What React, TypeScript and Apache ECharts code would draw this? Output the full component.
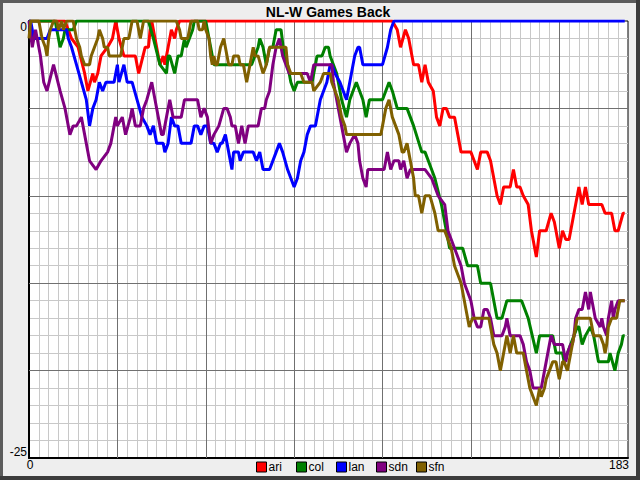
import React, { useEffect, useRef } from "react";
import * as echarts from "echarts";

const titleText = "NL-W Games Back";
const seriesNames = ["ari", "col", "lan", "sdn", "sfn"];
const seriesColors = ["#ff0000", "#008000", "#0000ff", "#800080", "#806000"];

const xTickLabels = [0, 183];
const yTickLabels = [0, -25];

const ari = [
  [0, 0], [11, 0], [13, -1], [15, -1.5], [17, -3], [18, -4], [19.5, -3], [20, -3.5], [21, -3], [22, -2], [24, -1.5], [25.5, -1], [26.5, 0], [27.5, -1], [29, -2], [32.5, -2], [33.5, -3], [35.5, -1.5], [36.5, -1.5], [37, -0.5], [37.5, 0], [38.5, -1], [39.5, -2], [40, -2.5], [41, -2], [41.5, -2.5], [42.5, -1.5], [43.5, -0.5], [44.5, -1], [45, -0.5], [46, 0],
  [111, 0], [112.5, -0.5], [113.5, -1.5], [115, -0.5], [116, -1], [117.5, -2.5], [119, -2.5], [120, -3.5], [121, -2.5], [122, -3.5], [123.5, -4], [124.5, -5.5], [125.5, -6], [126.5, -5], [127.5, -5], [128.5, -5.5], [130, -5.5], [131, -6.5], [132, -7.5], [135, -7.5], [136, -8], [137, -8.5], [138, -7.5], [140, -7.5], [141, -8], [143, -10], [144, -10.5], [145, -9.5], [147, -9.5], [148, -8.5], [149, -9.5], [150, -9.5], [151, -10], [152.5, -10.5], [153.5, -12], [155, -13.5], [156, -12], [158, -12], [159.5, -11], [160.5, -11.5], [162, -13], [163, -12], [164, -12.5], [165, -12.5], [166, -11.5], [168, -9.5], [169, -10.5], [170, -9.5], [171, -10.5], [175, -10.5], [176, -11], [178, -11], [179, -12], [180, -12], [181.5, -11], [182, -11],
];

const col = [
  [0, 0], [8, 0], [9, -1], [9.5, -1.5], [10.5, -1], [11, -0.5], [13.5, -0.5], [14.5, 0], [36.5, 0], [38, -1], [40, -2.5], [42, -3], [42.5, -2], [43, -2], [44.5, -3], [45.5, -2], [46.5, -2], [47.5, -1], [48, -1.5], [49, -1], [50, -0.5], [50.5, 0], [54, 0], [55.5, -1.5], [56.5, -2.5], [68, -2.5], [69, -2], [70, -1.5], [70.5, -1], [71.5, -1.5], [72.5, -2.5], [73.5, -1.5], [74.5, -1.5], [75.5, -0.5], [77, -0.5], [78, -2], [79, -2.5], [80, -3.5], [81, -4], [82, -3.5], [86.5, -3.5], [87, -3], [88, -2], [89.5, -2], [90.5, -1.5], [91.5, -1.5], [92, -2], [93, -2.5], [94, -3], [95.5, -4.5], [97, -5.5], [98, -4.5], [99, -4], [100, -3.5], [101, -4], [102, -4.5], [103, -5.5], [104, -4.5], [108, -4.5], [109, -4], [110, -3.5], [111, -4], [112.5, -5], [115.5, -5], [117.5, -6], [120, -7.5], [121, -7.5], [123, -8.5], [124, -9], [126, -10.5], [127, -11.5], [128.5, -13], [132.5, -13], [134, -14], [137, -14], [138, -15], [141, -15], [143, -17], [144.5, -17], [146, -16], [150.5, -16], [152.5, -17], [155, -19], [156, -18], [160, -18], [161, -19], [163, -19], [163.5, -19.5], [164.5, -19], [165.5, -18.5], [166.5, -18], [167.5, -17.5], [168, -17.5], [169, -18.5], [170, -18], [171.5, -17.5], [172.5, -18], [173.5, -19], [174, -19.5], [177, -19.5], [177.5, -19], [179, -20], [180, -19], [181, -18.5], [181.5, -18], [182, -18],
];

const lan = [
  [0, 0], [0.5, 0], [1.5, -1], [5.5, -1], [6.5, -0.5], [11.5, -0.5], [12, -1], [13, -1.5], [14.5, -2.5], [16, -3.5], [17.5, -4.5], [18.5, -6], [19.5, -5], [20.5, -4.5], [21.5, -3.5], [22.5, -4], [23.5, -3.5], [26, -3.5], [27, -2.5], [27.5, -3.5], [29, -2.5], [30, -3.5], [31.5, -3.5], [33, -4.5], [34.5, -5.5], [36, -6], [37, -6.5], [38, -6], [39, -7], [41, -7], [41.5, -7.5], [42.5, -7], [43.5, -5.5], [44.5, -6], [45.5, -6], [46.5, -7], [49.5, -7], [50.5, -6], [51.5, -6], [52.5, -6.5], [53.5, -6], [54.5, -6], [55.5, -7], [56.5, -7], [57.5, -7.5], [58.5, -7], [59, -7], [60, -6.5], [60.5, -7], [61.5, -8], [62, -8.5], [62.5, -7.5], [64, -7.5], [64.5, -8], [65.5, -7.5], [68.5, -7.5], [69.5, -8], [70.5, -7.5], [71.5, -8.5], [73.5, -8.5], [75.5, -7.5], [76.5, -7], [77.5, -7.5], [79, -8.5], [80, -9], [81, -9.5], [82, -9], [83, -8], [84, -7.5], [85, -6.5], [86, -6], [87.5, -6], [88, -5.5], [89, -4.5], [90, -4], [91, -3.5], [92, -2.5], [92.5, -2.5], [93.5, -3], [95, -3.5], [96, -4], [97, -4.5], [97.5, -4], [98.5, -3], [99.5, -2], [100.5, -1.5], [101, -1.5], [102, -2.5], [108, -2.5], [109.5, -1.5], [110.5, -0.5], [111.5, 0], [182, 0],
];

const sdn = [
  [0, 0], [1, -1.5], [2, -0.5], [3.5, -2], [4.5, -3.5], [5.5, -4], [7.5, -2.5], [9.5, -4], [11, -5], [12.5, -6.5], [13.5, -6], [14.5, -6], [16, -5.5], [17.5, -7], [18.5, -8], [20.5, -8.5], [22, -8], [24, -7.5], [25, -7], [26, -6], [26.5, -5.5], [27, -6], [28.5, -5.5], [29.5, -6.5], [31, -5.5], [31.5, -5], [32.5, -6], [34, -6], [35, -5], [36, -4.5], [37.5, -3.5], [38.5, -4.5], [39.5, -5.5], [40.5, -6.5], [41, -6.5], [42, -5.5], [43, -4.5], [44, -5.5], [46.5, -5.5], [47.5, -4.5], [51.5, -4.5], [52.5, -5.5], [53.5, -5], [54.5, -5.5], [55.5, -7], [56.5, -6.5], [58, -6], [59.5, -5], [60.5, -5], [61.5, -5.5], [62, -6], [63, -6], [64, -7], [65, -6], [66, -7], [67, -6], [70, -6], [71, -5], [72, -5], [72.5, -4.5], [73.5, -4], [74.5, -2.5], [75.5, -1.5], [76.5, -1], [77.5, -2], [78.5, -2.5], [79.5, -3], [85, -3], [86, -3.5], [87, -2.5], [92.5, -2.5], [93, -3.5], [94, -4.5], [95, -5.5], [96, -6.5], [97, -7.5], [98, -7], [99.5, -6.5], [100.5, -7], [101, -8], [102, -9], [103, -9.5], [103.5, -8.5], [108.5, -8.5], [109.5, -7.5], [110.5, -8.5], [111.5, -8], [113, -8], [113.5, -8.5], [114.5, -8], [115.5, -9], [116.5, -8.5], [121, -8.5], [123, -9], [125, -10], [127, -10.5], [128, -12], [129, -12.5], [130, -13], [131, -13.5], [132, -14], [133, -15], [134, -15.5], [135, -16], [136, -17], [137, -17.5], [138, -17.5], [139, -16.5], [140, -16.5], [141, -17], [142, -18], [144.5, -18], [145.5, -17.5], [146, -17], [146.5, -17.5], [147, -18], [150, -18], [151, -18.5], [152, -19.5], [153, -20], [154, -21], [156.5, -21], [157.5, -20], [158.5, -19], [159.5, -18], [160.5, -18.5], [163, -18.5], [164, -19.5], [164.5, -19], [165.5, -18.5], [166, -18.5], [166.5, -18], [167, -17], [168, -16.5], [169, -16.5], [169.5, -16], [170, -15.5], [170.5, -16], [171, -16.5], [171.5, -15.5], [172, -16], [173, -17], [174.5, -17.5], [175, -17], [175.5, -17.5], [176.5, -18], [177, -17], [178, -16], [178.5, -17], [179, -16.5], [180, -16], [182, -16],
];

const sfn = [
  [0, -1], [0.5, 0], [3, 0], [4, -1], [5, -1.5], [5.5, -2], [6, -1], [6.5, -0.5], [7.5, 0], [8.5, 0], [9, -0.5], [10, 0], [10.5, -0.5], [11.5, 0], [13.5, 0], [14.5, -1], [15.5, -1.5], [16, -2], [17, -2.5], [18.5, -2.5], [19, -2], [20, -1.5], [21, -1], [21.5, -0.5], [22.5, -1], [23, -1.5], [24, -1.5], [24.5, -2], [28, -2], [28.5, -1.5], [29, -1], [30.5, -1], [31, -0.5], [31.5, 0], [33, 0], [34, -1], [35, 0], [45, 0], [46, -0.5], [46.5, -1], [48.5, -1], [49, -0.5], [49.5, 0], [51.5, 0], [52, -0.5], [53, -0.5], [53.5, 0], [54, -0.5], [55, -1], [55.5, -2], [56, -2.5], [56.5, -2], [57, -2.5], [57.5, -2.5], [58, -2], [58.5, -1.5], [59.5, -1], [60.5, -2], [61, -2.5], [62, -2.5], [62.5, -2], [64, -2], [64.5, -2.5], [65.5, -2.5], [66.5, -3.5], [67.5, -2.5], [68.5, -1.5], [69, -2], [70, -2], [71.5, -3], [72.5, -2.5], [73.5, -1.5], [78.5, -1.5], [79, -2.5], [80, -3], [83, -3], [84, -3.5], [86.5, -3.5], [87, -4], [89, -3.5], [90, -3], [92, -3], [92.5, -3.5], [93.5, -4], [94.5, -4.5], [95.5, -5.5], [96.5, -6], [97, -6.5], [107.5, -6.5], [108.5, -5.5], [109, -5], [110, -4.5], [110.5, -5], [111, -5.5], [112, -6], [113, -6.5], [114, -7.5], [114.5, -7.5], [115.5, -7], [116, -7.5], [116.5, -8], [117, -8.5], [117.5, -9], [118, -10], [119, -10], [120, -11], [121, -10], [122.5, -10], [124, -11], [125, -12], [127, -12], [128, -12.5], [129, -13], [130, -14], [131, -14.5], [132, -15], [133, -16], [133.5, -16.5], [134.5, -17.5], [135.5, -17], [140.5, -17], [141.5, -18], [142, -18.5], [143, -19], [144, -20], [144.5, -19.5], [145.5, -18.5], [146, -18], [146.5, -18.5], [147, -19], [147.5, -18.5], [148, -18], [148.5, -18.5], [149, -19], [151, -19], [152, -20], [153, -21], [154, -21.5], [155, -22], [156, -21], [156.5, -21.5], [157.5, -21], [158, -20.5], [159, -20], [160, -19.5], [161, -19.5], [162, -20.5], [163, -19.5], [163.5, -19.5], [164.5, -20], [165.5, -19], [166, -18.5], [166.5, -18], [167, -17.5], [167.5, -17], [171.5, -17], [172.5, -18], [174.5, -18], [175.5, -18.5], [176, -19], [176.5, -18.5], [177, -17.5], [178, -17], [179.5, -17], [180, -16.5], [180.5, -16], [182, -16],
];

const seriesData = [ari, col, lan, sdn, sfn];

const FONT = "Liberation Sans";
const LEGEND_LEFT = 256;
const LEGEND_STEP = 40;

export default function App() {
  const ref = useRef<HTMLDivElement>(null);

  useEffect(() => {
    document.body.style.margin = "0";
    const chart = echarts.init(ref.current as HTMLDivElement, null, { renderer: "svg" });

    const xMin = xTickLabels[0];
    const xMax = xTickLabels[xTickLabels.length - 1];
    const yMax = yTickLabels[0];
    const yMin = yTickLabels[yTickLabels.length - 1];

    chart.setOption({
      animation: false,
      backgroundColor: "#eeeeee",
      textStyle: { fontFamily: FONT },
      title: {
        text: titleText,
        left: 328,
        top: 12,
        padding: 0,
        textAlign: "center",
        textVerticalAlign: "middle",
        textStyle: { fontFamily: FONT, fontSize: 14, fontWeight: "bold", color: "#000" },
      },
      legend: seriesNames.map((name, i) => ({
        data: [name],
        left: LEGEND_LEFT + LEGEND_STEP * i,
        top: 461,
        padding: 0,
        icon: "rect",
        itemWidth: 10,
        itemHeight: 10,
        itemGap: 0,
        itemStyle: { borderColor: "#000", borderWidth: 1 },
        textStyle: { fontFamily: FONT, fontSize: 12, color: "#000", padding: [0, 0, 0, -3] },
      })),
      graphic: [
        { type: "rect", silent: true, z: 100, shape: { x: 0, y: 0, width: 640, height: 3 }, style: { fill: "#5c5c5c" } },
        { type: "rect", silent: true, z: 100, shape: { x: 0, y: 0, width: 3, height: 480 }, style: { fill: "#5c5c5c" } },
        { type: "rect", silent: true, z: 100, shape: { x: 636, y: 0, width: 4, height: 480 }, style: { fill: "#3c3c3c" } },
        { type: "rect", silent: true, z: 100, shape: { x: 0, y: 476, width: 640, height: 4 }, style: { fill: "#3c3c3c" } },
      ],
      grid: {
        left: 29,
        top: 21,
        width: 599,
        height: 437,
        show: true,
        backgroundColor: "#ffffff",
        borderColor: "#000",
        borderWidth: 1,
        containLabel: false,
        outerBoundsMode: "none",
      },
      xAxis: [
        {
          type: "value",
          min: xMin,
          max: xMax,
          interval: 3,
          axisLine: { show: true, onZero: false, lineStyle: { color: "#000", width: 2 } },
          axisTick: { show: false },
          splitLine: { show: true, showMinLine: false, showMaxLine: false, lineStyle: { color: "#c8c8c8", width: 1 } },
          axisLabel: {
            show: true,
            margin: 1,
            fontFamily: FONT,
            fontSize: 12,
            color: "#000",
            formatter: (v: number) => {
              if (v === xMin) return "{a|" + v + "}";
              if (v === xMax) return "{b|" + v + "}";
              return "";
            },
            rich: {
              a: { fontFamily: FONT, fontSize: 12, color: "#000", padding: [0, 0, 0, 2] },
              b: { fontFamily: FONT, fontSize: 12, color: "#000", padding: [0, 18, 0, 0] },
            },
          },
        },
        {
          type: "value",
          min: xMin,
          max: xMax,
          interval: 27,
          position: "top",
          z: 1,
          axisLine: { show: false },
          axisTick: { show: false },
          axisLabel: { show: false },
          splitLine: { show: true, showMinLine: false, showMaxLine: false, lineStyle: { color: "#707070", width: 1 } },
        },
      ],
      yAxis: [
        {
          type: "value",
          min: yMin,
          max: yMax,
          interval: 1,
          axisLine: { show: true, onZero: false, lineStyle: { color: "#000", width: 2 } },
          axisTick: { show: false },
          splitLine: { show: true, showMinLine: false, showMaxLine: false, lineStyle: { color: "#c8c8c8", width: 1 } },
          axisLabel: {
            show: true,
            margin: 2,
            fontFamily: FONT,
            fontSize: 12,
            color: "#000",
            formatter: (v: number) => {
              if (v === yMax) return "{t|" + v + "}";
              if (v === yMin) return "{b|" + v + "}";
              return "";
            },
            rich: {
              t: { fontFamily: FONT, fontSize: 12, color: "#000", padding: [12, 0, 0, 0] },
              b: { fontFamily: FONT, fontSize: 12, color: "#000", padding: [0, 0, 12, 0] },
            },
          },
        },
        {
          type: "value",
          min: yMin,
          max: yMax,
          interval: 5,
          position: "right",
          z: 1,
          axisLine: { show: false },
          axisTick: { show: false },
          axisLabel: { show: false },
          splitLine: { show: true, showMinLine: false, showMaxLine: false, lineStyle: { color: "#707070", width: 1 } },
        },
      ],
      series: seriesNames.map((name, i) => ({
        name,
        type: "line",
        xAxisIndex: 0,
        yAxisIndex: 0,
        data: seriesData[i],
        showSymbol: false,
        symbol: "none",
        smooth: false,
        color: seriesColors[i],
        itemStyle: { color: seriesColors[i] },
        lineStyle: { color: seriesColors[i], width: 3 },
        emphasis: { disabled: true },
      })),
    });

    return () => chart.dispose();
  }, []);

  return (
    <div
      ref={ref}
      style={{ position: "absolute", left: 0, top: 0, width: 640, height: 480 }}
    />
  );
}
